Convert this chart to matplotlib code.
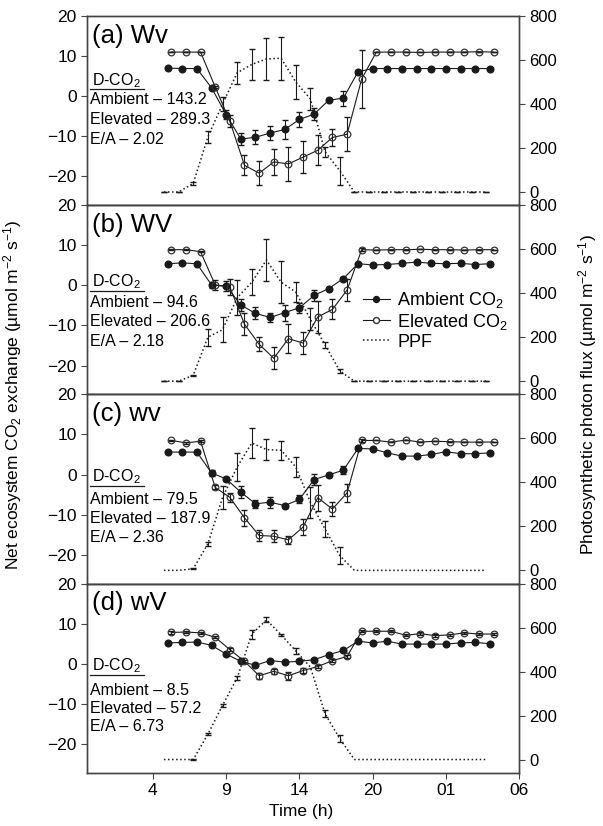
import numpy as np
import matplotlib
matplotlib.use("Agg")
import matplotlib.pyplot as plt
from matplotlib.lines import Line2D

plt.rcParams['font.family'] = ['Liberation Sans', 'DejaVu Sans']
plt.rcParams['mathtext.fontset'] = 'custom'
plt.rcParams['mathtext.rm'] = 'Liberation Sans'
plt.rcParams['mathtext.it'] = 'Liberation Sans:italic'
plt.rcParams['axes.unicode_minus'] = True

# hours on the plot axis (evenly spaced labels as in the paper)
hours = np.arange(5, 28)
tick_pos = [4, 9, 14, 19, 24, 29]
tick_lab = ['4', '9', '14', '20', '01', '06']

panels = ['(a) Wv', '(b) WV', '(c) wv', '(d) wV']
amb_total = ['143.2', '94.6', '79.5', '8.5']
ele_total = ['289.3', '206.6', '187.9', '57.2']
ratio = ['2.02', '2.18', '2.36', '6.73']

amb_a = [7.0, 6.9, 6.9, 2.1, -4.6, -10.7, -10.25, -9.2, -8.3, -5.8, -4.5, -1.0, -0.5, 6.1,
         6.9, 6.9, 6.9, 6.9, 6.9, 6.9, 6.9, 6.9, 6.9]
amb_a_err = [0, 0, 0, 0.3, 1.2, 1.5, 1.8, 1.7, 2.4, 1.9, 1.5, 0.3, 1.9, 0.5,
             0, 0, 0, 0, 0, 0, 0, 0, 0]
ele_a = [11.0, 11.0, 11.0, 2.3, -6.25, -17.25, -19.2, -16.4, -16.9, -15.2, -13.5, -10.3, -9.5, 4.3,
         11.0, 11.0, 11.0, 10.9, 11.0, 11.0, 11.0, 11.1, 11.0]
ele_a_err = [0, 0, 0, 0.3, 1.5, 2.5, 3.0, 3.3, 4.2, 4.0, 3.7, 2.2, 4.3, 7.2,
             0, 0, 0, 0, 0, 0, 0, 0, 0]
ppf_a = [0, 0, 39, 250, 400, 542, 580, 605, 608, 500, 423, 183, 97, 0,
         0, 0, 0, 0, 0, 0, 0, 0, 0]
ppf_a_err = [0, 0, 5, 29, 30, 49, 71, 95, 97, 77, 49, 23, 64, 0,
             0, 0, 0, 0, 0, 0, 0, 0, 0]

amb_b = [5.4, 5.6, 5.4, 0.1, -0.2, -4.9, -7.0, -8.0, -6.8, -5.6, -2.5, -0.8, 1.7, 5.4,
         5.1, 5.2, 5.5, 5.8, 5.5, 5.4, 5.5, 5.2, 5.4]
amb_b_err = [0, 0, 0, 0.8, 1.2, 1.5, 1.5, 1.2, 2.0, 1.2, 1.4, 0.3, 0.5, 0.3,
             0, 0, 0, 0, 0, 0, 0, 0, 0]
ele_b = [8.9, 8.9, 8.4, 0.1, -0.4, -9.7, -14.7, -18.2, -13.3, -14.4, -7.9, -6.0, -1.2, 8.9,
         8.8, 8.9, 8.9, 9.0, 8.9, 8.9, 8.8, 8.9, 8.9]
ele_b_err = [0.2, 0.2, 0.2, 1.2, 2.0, 2.7, 1.7, 2.7, 3.6, 2.8, 4.0, 2.5, 2.7, 0.3,
             0, 0, 0, 0, 0, 0, 0, 0, 0]
ppf_b = [0, 0, 27, 200, 234, 379, 450, 551, 450, 405, 281, 165, 47, 0,
         0, 0, 0, 0, 0, 0, 0, 0, 0]
ppf_b_err = [0, 0, 3, 38, 57, 79, 60, 94, 95, 45, 50, 15, 10, 0,
             0, 0, 0, 0, 0, 0, 0, 0, 0]

amb_c = [5.6, 5.6, 5.6, 0.4, -1.1, -4.4, -7.3, -6.9, -7.75, -6.2, -1.25, -0.1, 1.1, 6.5,
         6.4, 5.4, 4.6, 4.6, 5.0, 5.7, 5.2, 5.2, 5.4]
amb_c_err = [0, 0, 0, 0.8, 0.5, 1.5, 1.0, 1.4, 0.5, 1.0, 1.3, 0.5, 1.0, 0.3,
             0, 0, 0, 0, 0, 0, 0, 0, 0]
ele_c = [8.5, 7.9, 8.3, -3.2, -5.7, -10.8, -15.2, -15.4, -16.3, -13.1, -5.8, -8.6, -4.6, 8.5,
         8.5, 8.1, 8.6, 8.1, 8.3, 8.2, 8.1, 8.1, 8.1]
ele_c_err = [0.2, 0.2, 0.2, 0.5, 1.2, 2.0, 1.3, 1.5, 1.0, 1.9, 3.3, 1.7, 2.3, 0.3,
             0, 0, 0, 0, 0, 0, 0, 0, 0]
ppf_c = [0, 0, 7, 120, 331, 470, 579, 549, 546, 470, 309, 188, 67, 0,
         0, 0, 0, 0, 0, 0, 0, 0, 0]
ppf_c_err = [np.nan, np.nan, 3, 8, 54, 64, 69, 48, 43, 45, 71, 37, 37, np.nan,
             np.nan, np.nan, np.nan, np.nan, np.nan, np.nan, np.nan, np.nan, np.nan]

amb_d = [5.2, 5.3, 5.4, 4.6, 2.4, 0.6, -0.4, 0.8, 0.4, 0.6, 1.0, 2.25, 3.3, 5.6,
         5.2, 5.6, 4.9, 4.9, 4.9, 4.9, 5.2, 5.3, 5.0]
amb_d_err = [0.2] * 23
ele_d = [7.8, 7.9, 7.7, 6.6, 3.5, 0.6, -3.0, -1.9, -3.0, -1.7, -0.7, 0.75, 1.8, 8.1,
         8.1, 8.1, 7.1, 7.5, 7.0, 7.2, 7.7, 7.4, 7.4]
ele_d_err = [0.3, 0.3, 0.3, 0.3, 0.3, 0.3, 0.8, 0.7, 1.0, 0.6, 0.4, 0.4, 0.4, 0.3,
             0.3, 0.3, 0.3, 0.3, 0.3, 0.3, 0.3, 0.3, 0.3]
ppf_d = [0, 0, 0, 115, 246, 371, 570, 635, 567, 494, 420, 208, 95, 0,
         0, 0, 0, 0, 0, 0, 0, 0, 0]
ppf_d_err = [np.nan, np.nan, 2, 5, 5, 10, 20, 12, 4, 15, np.nan, 15, 15, np.nan,
             np.nan, np.nan, np.nan, np.nan, np.nan, np.nan, np.nan, np.nan, np.nan]

amb = [amb_a, amb_b, amb_c, amb_d]
amb_err = [amb_a_err, amb_b_err, amb_c_err, amb_d_err]
ele = [ele_a, ele_b, ele_c, ele_d]
ele_err = [ele_a_err, ele_b_err, ele_c_err, ele_d_err]
ppf = [ppf_a, ppf_b, ppf_c, ppf_d]
ppf_err = [ppf_a_err, ppf_b_err, ppf_c_err, ppf_d_err]

# text block placement (axes fraction)
txt_top = [0.635, 0.572, 0.539, 0.54]
txt_first = [0.533, 0.4625, 0.42, 0.412]
txt_step = [0.105, 0.103, 0.099, 0.097]

fig, axes = plt.subplots(4, 1, sharex=True, figsize=(6.03, 8.26), dpi=100)
fig.subplots_adjust(left=0.1443, right=0.861, top=0.9806, bottom=0.0645, hspace=0)

col = '#1a1a1a'
for i, ax in enumerate(axes):
    ax2 = ax.twinx()
    xa = hours
    xe = hours + 0.25
    xp = hours - 0.25

    ax.errorbar(xa, amb[i], yerr=amb_err[i], fmt='none', ecolor=col, elinewidth=0.8, capsize=2.5)
    ax.errorbar(xe, ele[i], yerr=ele_err[i], fmt='none', ecolor=col, elinewidth=0.8, capsize=2.5)
    ax.plot(xa, amb[i], '-o', color=col, lw=0.8, ms=4.8, mfc=col, mec=col)
    ax.plot(xe, ele[i], '-o', color=col, lw=0.8, ms=4.8, mfc='none', mec='#333333', mew=0.9)

    p = np.array(ppf[i], dtype=float)
    pe = np.array(ppf_err[i], dtype=float)
    m = np.isfinite(pe)
    ax2.plot(xp, p, ':', color=col, lw=1.1)
    ax2.errorbar(xp[m], p[m], yerr=pe[m], fmt='none', ecolor=col, elinewidth=0.8, capsize=2.5)

    ax.set_ylim(-27.2, 20)
    ax.set_yticks([-20, -10, 0, 10, 20])
    ax2.set_ylim(-60, 800)
    ax2.set_yticks([0, 200, 400, 600, 800])
    ax.set_xlim(-0.5, 29)
    ax.set_xticks(tick_pos)
    ax.set_xticklabels(tick_lab)
    ax.tick_params(axis='y', direction='out', length=4, labelsize=12.5, color='#444444')
    ax2.tick_params(axis='y', direction='out', length=4, labelsize=12, color='#444444')
    ax.tick_params(axis='x', direction='out', length=4, labelsize=12.5, color='#444444')
    if i < 3:
        ax.tick_params(axis='x', bottom=False, labelbottom=False)
    for a in (ax, ax2):
        for s in a.spines.values():
            s.set_color('#444444')
            s.set_linewidth(1.0)

    ax.text(0.011, 0.86, panels[i], transform=ax.transAxes, fontsize=18.5, va='baseline')
    ax.text(0.011, txt_top[i], 'D-CO$_2$', transform=ax.transAxes, fontsize=11.5, va='baseline')
    ax.plot([0.008, 0.131], [txt_top[i] - 0.023] * 2, color=col, lw=0.9,
            transform=ax.transAxes, clip_on=False)
    lines = ['Ambient \u2013 ' + amb_total[i],
             'Elevated \u2013 ' + ele_total[i],
             'E/A \u2013 ' + ratio[i]]
    for k, s in enumerate(lines):
        ax.text(0.007, txt_first[i] - k * txt_step[i], s, transform=ax.transAxes,
                fontsize=11.5, va='baseline')

    if i == 1:
        h_amb = Line2D([], [], color=col, lw=0.8, marker='o', ms=4.3, mfc=col, mec=col)
        h_ele = Line2D([], [], color=col, lw=0.8, marker='o', ms=4.3, mfc='white', mec='#333333')
        h_ppf = Line2D([], [], color=col, lw=1.1, ls=':')
        ax2.legend([h_amb, h_ele, h_ppf], ['Ambient CO$_2$', 'Elevated CO$_2$', 'PPF'],
                   loc='center left', bbox_to_anchor=(0.638, 0.392), frameon=False,
                   fontsize=13, handlelength=1.5, handletextpad=0.4, labelspacing=0.1,
                   borderpad=0, borderaxespad=0, numpoints=1)

fig.text(0.02, 0.522, 'Net ecosystem CO$_2$ exchange (\u00b5mol m$^{-2}$ s$^{-1}$)',
         rotation=90, va='center', ha='center', fontsize=12.5)
fig.text(0.975, 0.522, 'Photosynthetic photon flux (\u00b5mol m$^{-2}$ s$^{-1}$)',
         rotation=90, va='center', ha='center', fontsize=12.5)
fig.text(0.5, 0.012, 'Time (h)', ha='center', va='baseline', fontsize=12.5)

fig.savefig('out.png', dpi=100)
